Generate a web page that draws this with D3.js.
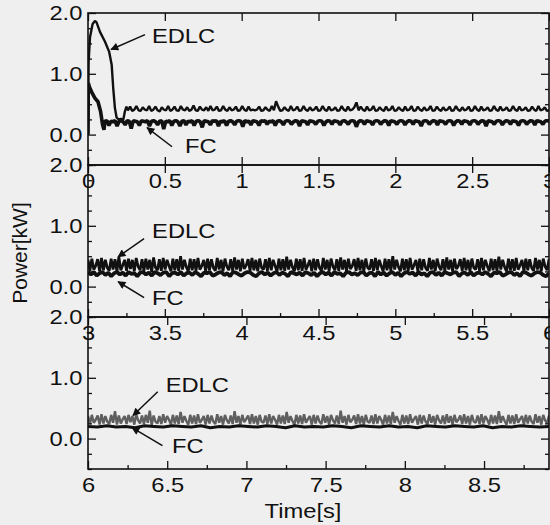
<!DOCTYPE html>
<html><head><meta charset="utf-8">
<script src="https://cdn.jsdelivr.net/npm/d3@7"></script>
<style>
html,body{margin:0;padding:0;background:#efefef;}
svg{display:block;}
text{font-family:"Liberation Sans",Arial,Helvetica,sans-serif;fill:#111;}
</style></head><body>
<svg id="chart" width="550" height="525"></svg>
<script>
// ---------- data ----------
const panelStart = [0, 3, 6];
const panelEnd = [3, 6, 8.91];
const xTicks = [[0,0.5,1,1.5,2,2.5,3],[3,3.5,4,4.5,5,5.5,6],[6,6.5,7,7.5,8,8.5]];
const xTickLabels = [["0","0.5","1","1.5","2","2.5","3"],["3","3.5","4","4.5","5","5.5","6"],["6","6.5","7","7.5","8","8.5"]];
const xMinor = [[],[3.25,3.75,4.25,4.75,5.25,5.75],[6.25,6.75,7.25,7.75,8.25,8.75]];
const yTicks = [0, 1, 2];
const yTickLabels = ["0.0","1.0","2.0"];
const yMinor = [-0.5,-0.25,0.25,0.5,0.75,1.25,1.5,1.75];
const yLabel = "Power[kW]";
const xLabel = "Time[s]";
const seriesNames = ["EDLC","FC"];

// panel 1 start-up transients
const edlcStartT1 = [0,0.004,0.013,0.03,0.045,0.055,0.078,0.11,0.138,0.154,0.164,0.175,0.186,0.2,0.215,0.23,0.24,0.25];
const edlcStartV1 = [0,1.2,1.6,1.82,1.87,1.85,1.69,1.53,1.36,1.15,0.77,0.44,0.28,0.25,0.26,0.25,0.38,0.46];
const fcStartT1 = [0,0.002,0.01,0.024,0.045,0.065,0.082,0.095,0.104];
const fcStartV1 = [0,0.85,0.78,0.7,0.6,0.54,0.38,0.16,0.08];

// panel 1 steady part (EDLC 0.26-3.0 s, FC 0.11-3.0 s)
const edlcSteady1 = [
.40,.46,.39,.41,.47,.40,.39,.45,.41,.40,.47,.39,.41,.46,.40,.38,.45,.41,.40,.47,
.39,.41,.46,.40,.39,.47,.41,.40,.45,.39,.41,.48,.40,.39,.46,.41,.40,.45,.39,.47,
.40,.41,.46,.39,.40,.47,.41,.39,.45,.40,.41,.46,.39,.40,.47,.41,.39,.46,.40,.41,
.40,.41,.46,.39,.40,.45,.41,.39,.47,.40,.55,.46,.39,.40,.45,.41,.39,.47,.40,.41,
.46,.39,.40,.47,.41,.39,.45,.40,.41,.46,.39,.40,.47,.41,.39,.46,.40,.41,.45,.39,
.40,.47,.41,.39,.46,.40,.41,.45,.53,.40,.46,.41,.39,.46,.40,.41,.47,.39,.40,.45,
.41,.39,.46,.40,.41,.47,.39,.40,.45,.41,.39,.46,.40,.41,.47,.39,.40,.46,.41,.39,
.45,.40,.41,.47,.39,.40,.46,.41,.39,.45,.40,.41,.46,.39,.40,.47,.41,.39,.45,.40,
.41,.46,.39,.40,.47,.41,.39,.46,.40,.41,.45,.39,.40,.47,.41,.39,.46,.40,.41,.45,
.39,.40,.47,.41,.39,.46,.40,.41,.45,.39,.40,.46,.41,.39,.47,.40,.41,.45,.39,.40];
const fcSteady1 = [
.22,.23,.15,.22,.21,.23,.14,.22,.23,.21,.16,.23,.22,.10,.23,.22,.21,.15,.23,.22,
.21,.23,.14,.22,.23,.21,.16,.22,.23,.09,.22,.21,.23,.15,.22,.23,.21,.14,.22,.23,
.16,.22,.21,.23,.15,.22,.23,.21,.12,.23,.22,.21,.16,.23,.22,.23,.14,.22,.21,.23,
.15,.22,.23,.21,.16,.22,.23,.22,.13,.23,.21,.22,.16,.23,.22,.21,.15,.23,.22,.23,
.17,.22,.21,.23,.15,.22,.23,.21,.16,.22,.23,.22,.17,.21,.23,.22,.14,.23,.22,.21,
.16,.23,.22,.21,.17,.22,.23,.22,.15,.21,.23,.22,.17,.23,.22,.21,.16,.22,.23,.21,
.17,.22,.23,.22,.13,.21,.23,.22,.17,.23,.22,.21,.16,.22,.23,.22,.17,.21,.23,.22,
.15,.23,.22,.21,.17,.22,.23,.22,.16,.21,.23,.22,.17,.23,.22,.21,.14,.22,.23,.22,
.17,.21,.23,.22,.16,.23,.22,.21,.17,.22,.23,.22,.15,.21,.23,.22,.17,.23,.22,.21,
.16,.22,.23,.22,.17,.21,.23,.22,.14,.23,.22,.21,.17,.22,.23,.22,.16,.21,.23,.22,
.17,.23,.22,.21,.15,.22,.23,.22,.17,.21,.23,.22,.16,.23,.22,.21,.17,.22,.23,.22];

// panel 2 (3-6 s)
const edlc2 = [
.44,.26,.46,.28,.34,.45,.25,.47,.27,.44,.31,.26,.46,.28,.45,.25,.49,.27,.35,.44,
.26,.46,.29,.44,.25,.47,.33,.27,.45,.26,.46,.28,.44,.24,.48,.31,.27,.45,.26,.47,
.28,.44,.34,.25,.46,.27,.45,.26,.50,.28,.44,.32,.25,.46,.27,.45,.26,.47,.28,.34,
.44,.25,.46,.27,.45,.31,.26,.47,.28,.44,.25,.46,.33,.27,.45,.26,.48,.28,.44,.25,
.46,.29,.35,.45,.26,.47,.27,.44,.25,.46,.31,.28,.45,.26,.47,.27,.44,.34,.25,.46,
.27,.45,.26,.49,.28,.44,.32,.25,.46,.27,.45,.26,.47,.28,.35,.44,.25,.46,.27,.45,
.31,.26,.47,.28,.44,.25,.46,.33,.27,.45,.26,.48,.28,.44,.25,.46,.29,.34,.45,.26,
.47,.27,.44,.25,.46,.31,.28,.45,.26,.47,.27,.44,.34,.25,.46,.27,.45,.26,.50,.28,
.44,.32,.25,.46,.27,.45,.26,.47,.28,.35,.44,.25,.46,.27,.45,.31,.26,.47,.28,.44,
.25,.46,.33,.27,.45,.26,.48,.28,.44,.25,.46,.29,.34,.45,.26,.47,.27,.44,.25,.46,
.31,.28,.45,.26,.47,.27,.44,.34,.25,.46,.27,.45,.26,.49,.28,.44,.32,.25,.46,.27,
.45,.26,.47,.28,.35,.44,.25,.46,.27,.45,.31,.26,.47,.28,.44,.25,.46,.33,.27,.45];
const fc2 = [
.23,.20,.24,.18,.22,.24,.19,.23,.17,.22,.24,.20,.23,.18,.24,.21,.22,.17,.23,.24,
.20,.23,.18,.24,.22,.19,.23,.24,.17,.22,.23,.20,.24,.18,.22,.23,.19,.24,.21,.17,
.23,.22,.24,.18,.20,.23,.24,.19,.22,.17,.24,.23,.20,.18,.22,.24,.23,.19,.17,.22,
.24,.20,.23,.18,.22,.24,.19,.23,.21,.17,.24,.22,.20,.23,.18,.24,.22,.19,.23,.17,
.22,.24,.20,.23,.18,.24,.21,.22,.17,.23,.24,.20,.22,.19,.23,.24,.18,.22,.23,.17,
.24,.20,.23,.18,.22,.24,.19,.23,.17,.22,.24,.21,.23,.18,.24,.20,.22,.17,.23,.24,
.19,.23,.18,.24,.22,.20,.23,.24,.17,.22,.23,.19,.24,.18,.22,.23,.20,.24,.21,.17,
.23,.22,.24,.18,.20,.23,.24,.19,.22,.17,.24,.23,.20,.18,.22,.24,.23,.19,.17,.22];

// panel 3 (6-8.91 s)
const edlc3 = [
.37,.24,.39,.26,.31,.38,.23,.40,.25,.37,.28,.24,.39,.26,.45,.23,.38,.25,.32,.37,
.24,.39,.27,.37,.23,.40,.30,.25,.38,.24,.39,.26,.46,.22,.38,.28,.25,.37,.24,.40,
.26,.37,.31,.23,.39,.25,.38,.24,.44,.26,.37,.29,.23,.39,.25,.38,.24,.40,.26,.31,
.37,.23,.39,.25,.38,.28,.24,.40,.26,.37,.23,.39,.30,.25,.38,.24,.45,.26,.37,.23,
.39,.27,.32,.38,.24,.40,.25,.37,.23,.39,.28,.26,.38,.24,.40,.25,.37,.31,.23,.39,
.25,.38,.24,.44,.26,.37,.29,.23,.39,.25,.38,.24,.40,.26,.32,.37,.23,.39,.25,.38,
.28,.24,.40,.26,.37,.23,.39,.30,.25,.38,.24,.46,.26,.37,.23,.39,.27,.31,.38,.24,
.40,.25,.37,.23,.39,.28,.26,.38,.24,.40,.25,.37,.31,.23,.39,.25,.38,.24,.44,.26,
.37,.29,.23,.39,.25,.38,.24,.40,.26,.32,.37,.23,.39,.25,.38,.28,.24,.40,.26,.37,
.23,.39,.30,.25,.38,.24,.40,.26,.37,.23,.39,.27,.31,.38,.24,.40,.25,.37,.23,.39,
.28,.26,.38,.24,.40,.25,.37,.31,.23,.39,.25,.38,.24,.45,.26,.37,.29,.23,.39,.25,
.38,.24,.40,.26,.32,.37,.23,.39,.25,.38,.28,.24,.40,.26,.37,.23,.39,.30,.25,.38];
const fc3 = [
.20,.19,.21,.19,.20,.18,.21,.20,.19,.21,.20,.19,.21,.18,.20,.19,.21,.20,.19,.21,
.20,.18,.21,.19,.20,.19,.21,.20,.18,.21,.20,.19,.21,.19,.20,.18,.21,.20,.19,.21,
.20,.19,.21,.18,.20,.19,.21,.20,.19,.20];

// annotation anchors in data units: [textT, textV, tailT, tailV, headT, headV]
const annEdlc = [[0.416,1.50,0.371,1.645,0.15,1.40],[3.417,0.806,3.365,0.79,3.196,0.49],[6.49,0.773,6.44,0.77,6.284,0.38]];
const annFc = [[0.631,-0.31,0.547,-0.2,0.384,0.115],[3.417,-0.296,3.365,-0.18,3.196,0.08],[6.53,-0.23,6.47,-0.115,6.278,0.18]];

// ---------- layout ----------
const left = 88, right = 549;
const panelTop = [13, 165, 317];
const panelH = 152;
const sx = 1.13; // horizontal text stretch of the scanned figure

const svg = d3.select("#chart");
svg.append("rect").attr("width",550).attr("height",525).attr("fill","#efefef");

const defs = svg.append("defs");
defs.append("marker").attr("id","ah").attr("viewBox","0 0 10 10").attr("refX",9).attr("refY",5)
  .attr("markerWidth",9).attr("markerHeight",8).attr("markerUnits","userSpaceOnUse").attr("orient","auto")
  .append("path").attr("d","M0,0L10,5L0,10Z").attr("fill","#111");

function sampled(t0, t1, vals){
  const n = vals.length;
  return vals.map((v,i)=>({t: t0 + (t1-t0)*i/(n-1), v}));
}
function joinPts(ts, vs){ return ts.map((t,i)=>({t, v: vs[i]})); }

const panelSeries = [
  { edlc: joinPts(edlcStartT1, edlcStartV1).concat(sampled(0.26, 3.0, edlcSteady1)),
    fc: joinPts(fcStartT1, fcStartV1).concat(sampled(0.11, 3.0, fcSteady1)),
    edlcColor:"#111", edlcW:2.4, fcW:3.6 },
  { edlc: sampled(3.0, 6.0, edlc2), fc: sampled(3.0, 6.0, fc2), edlcColor:"#111", edlcW:2.7, fcW:3.8 },
  { edlc: sampled(6.0, 8.91, edlc3), fc: sampled(6.0, 8.91, fc3), edlcColor:"#5f5f5f", edlcW:2.4, fcW:3.0 }
];

function stretchText(g, x, y, str, anchor){
  return g.append("text").attr("transform",`translate(${x},${y}) scale(${sx},1)`)
    .attr("text-anchor", anchor).attr("font-size",21).text(str);
}

panelSeries.forEach((ps, p) => {
  const top = panelTop[p], bottom = top + panelH;
  const x = d3.scaleLinear().domain([panelStart[p], panelEnd[p]]).range([left, right]);
  const y = d3.scaleLinear().domain([-0.5, 2.0]).range([bottom, top]);
  const g = svg.append("g");

  const clipId = "clip"+p;
  defs.append("clipPath").attr("id",clipId).append("rect")
    .attr("x",left).attr("y",top).attr("width",right-left).attr("height",panelH);

  const line = d3.line().x(d=>x(d.t)).y(d=>y(d.v));
  const lg = g.append("g").attr("clip-path",`url(#${clipId})`);
  lg.append("path").datum(ps.edlc).attr("d",line).attr("fill","none")
    .attr("stroke",ps.edlcColor).attr("stroke-width",ps.edlcW).attr("stroke-linejoin","bevel");
  lg.append("path").datum(ps.fc).attr("d",line).attr("fill","none")
    .attr("stroke","#111").attr("stroke-width",ps.fcW).attr("stroke-linejoin","bevel");

  const styleAxis = sel => { sel.select(".domain").remove(); sel.selectAll("line").attr("stroke","#111").attr("stroke-width",1.3); };
  const bAx = g.append("g").attr("transform",`translate(0,${bottom})`)
    .call(d3.axisBottom(x).tickValues(xTicks[p]).tickSize(-8).tickPadding(8)
      .tickFormat((d,i)=>xTickLabels[p][i]));
  styleAxis(bAx);
  bAx.attr("font-family",null).attr("font-size",null);
  bAx.selectAll("text").attr("font-size",21).attr("fill","#111").attr("transform",`scale(${sx},1)`);
  const bMin = g.append("g").attr("transform",`translate(0,${bottom})`)
    .call(d3.axisBottom(x).tickValues(xMinor[p]).tickSize(-4).tickFormat(""));
  styleAxis(bMin);
  const tAx = g.append("g").attr("transform",`translate(0,${top})`)
    .call(d3.axisTop(x).tickValues(xTicks[p]).tickSize(-8).tickFormat(""));
  styleAxis(tAx);
  const lAx = g.append("g").attr("transform",`translate(${left},0)`)
    .call(d3.axisLeft(y).tickValues(yTicks).tickSize(-8).tickPadding(5)
      .tickFormat((d,i)=>yTickLabels[i]));
  styleAxis(lAx);
  lAx.attr("font-family",null).attr("font-size",null);
  lAx.selectAll("text").attr("font-size",21).attr("fill","#111").attr("transform",`scale(${sx},1)`);
  const lMin = g.append("g").attr("transform",`translate(${left},0)`)
    .call(d3.axisLeft(y).tickValues(yMinor).tickSize(-4).tickFormat(""));
  styleAxis(lMin);
  const rAx = g.append("g").attr("transform",`translate(${right},0)`)
    .call(d3.axisRight(y).tickValues(yTicks).tickSize(-8).tickFormat(""));
  styleAxis(rAx);
  const rMin = g.append("g").attr("transform",`translate(${right},0)`)
    .call(d3.axisRight(y).tickValues(yMinor).tickSize(-4).tickFormat(""));
  styleAxis(rMin);

  g.append("rect").attr("x",left).attr("y",top).attr("width",right-left).attr("height",panelH)
    .attr("fill","none").attr("stroke","#111").attr("stroke-width",1.6);

  [[annEdlc[p], seriesNames[0]], [annFc[p], seriesNames[1]]].forEach(([a, name]) => {
    stretchText(g, x(a[0]), y(a[1]), name, "start");
    g.append("line").attr("x1",x(a[2])).attr("y1",y(a[3])).attr("x2",x(a[4])).attr("y2",y(a[5]))
      .attr("stroke","#111").attr("stroke-width",1.5).attr("marker-end","url(#ah)");
  });
});

svg.append("text").attr("transform","translate(27,253) rotate(-90)").attr("text-anchor","middle")
  .attr("font-size",21).text(yLabel);
stretchText(svg, 303, 518, xLabel, "middle");
</script>
</body></html>
